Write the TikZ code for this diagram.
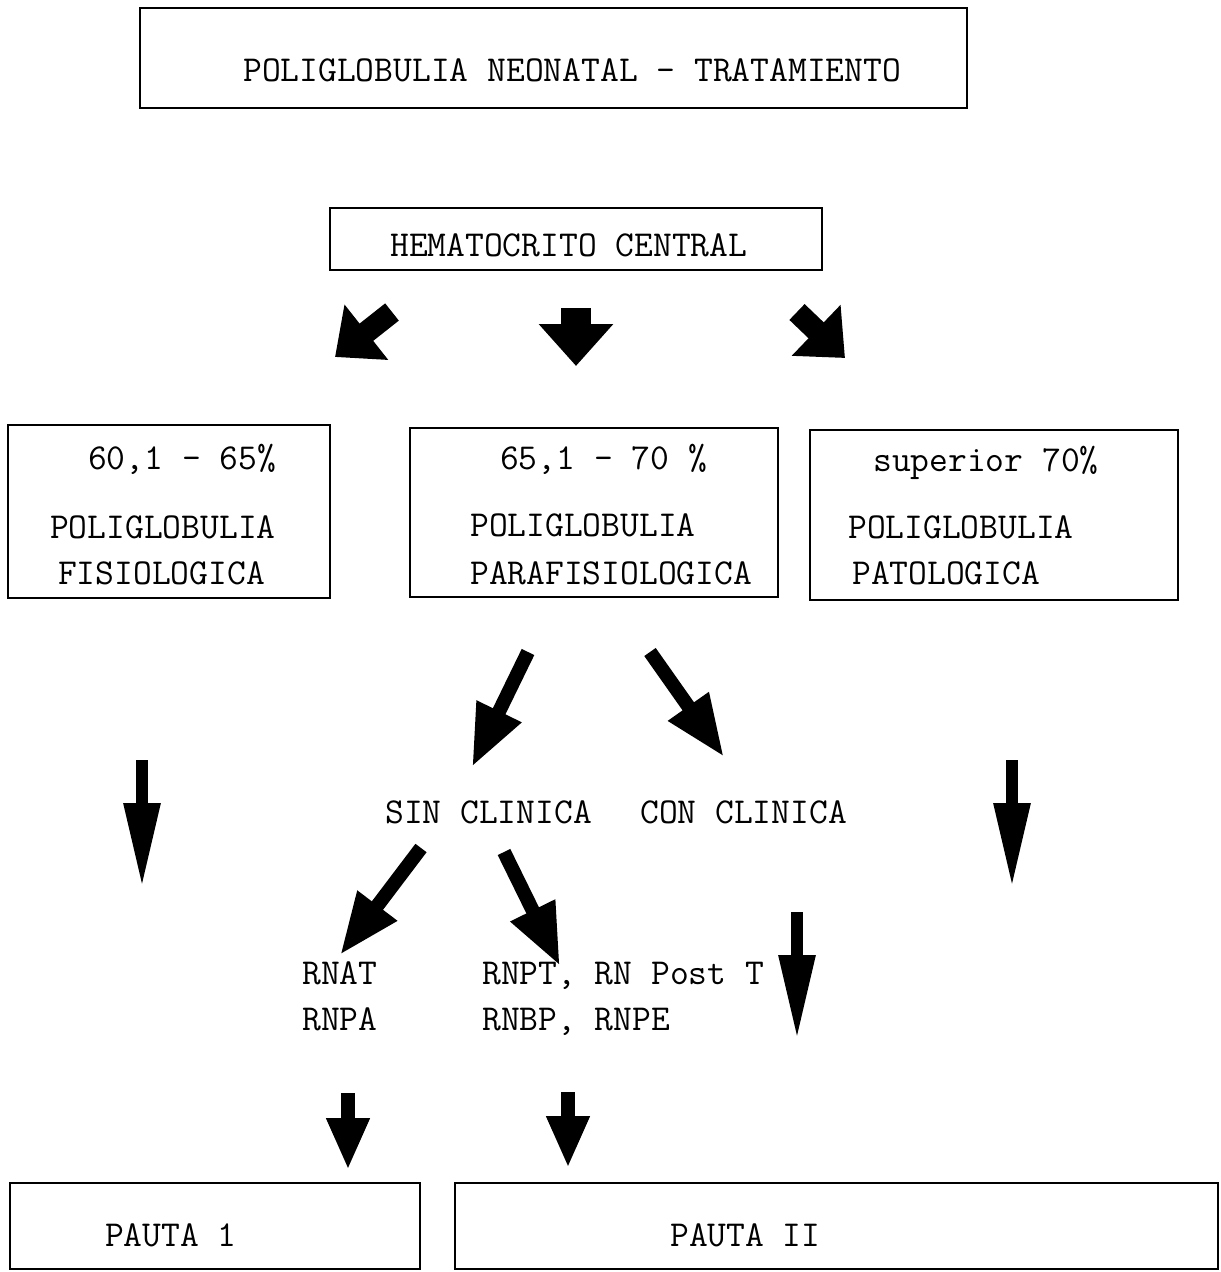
\documentclass[tikz,border=0pt]{standalone}
\usetikzlibrary{arrows.meta}
\begin{document}
\begin{tikzpicture}[x=1pt,y=-1pt,
  box/.style={draw, line width=2pt, rectangle, inner sep=0pt},
  lbl/.style={anchor=base west, inner sep=0pt, font=\ttfamily\fontsize{36.5}{40}\selectfont},
]
\useasboundingbox (0,0) rectangle (1221,1272);

% title and first step
\node[box, minimum width=827pt, minimum height=100pt] (title) at (553.5,58) {};
\node[lbl] (titletxt) at (243,81) {POLIGLOBULIA NEONATAL - TRATAMIENTO};
\node[box, minimum width=492pt, minimum height=62pt] (hto) at (576,239) {};
\node[lbl] (htotxt) at (390,256) {HEMATOCRITO CENTRAL};

% three ranges
\node[box, minimum width=322pt, minimum height=173pt] (b1) at (169,511.5) {};
\node[box, minimum width=368pt, minimum height=169pt] (b2) at (594,512.5) {};
\node[box, minimum width=368pt, minimum height=170pt] (b3) at (994,515) {};
\node[lbl] (r1) at (88,469) {60,1 - 65\%};
\node[lbl] (r2) at (500,469) {65,1 - 70 \%};
\node[lbl] (r3) at (873,471) {superior 70\%};
\node[lbl] (p1a) at (50,538) {POLIGLOBULIA};
\node[lbl] (p1b) at (58,584) {FISIOLOGICA};
\node[lbl] (p2a) at (470,536) {POLIGLOBULIA};
\node[lbl] (p2b) at (470,584) {PARAFISIOLOGICA};
\node[lbl] (p3a) at (848,538) {POLIGLOBULIA};
\node[lbl] (p3b) at (852,584) {PATOLOGICA};

% clinical branches
\node[lbl] (sin) at (385,823) {SIN CLINICA};
\node[lbl] (con) at (640,823) {CON CLINICA};
\node[lbl] (rnat) at (302,984) {RNAT};
\node[lbl] (rnpa) at (302,1030) {RNPA};
\node[lbl] (rnpt) at (482,984) {RNPT, RN Post T};
\node[lbl] (rnbp) at (482,1030) {RNBP, RNPE};

% treatment boxes
\node[box, minimum width=410pt, minimum height=86pt] (pauta1) at (215,1226) {};
\node[box, minimum width=763pt, minimum height=86pt] (pauta2) at (836.5,1226) {};
\node[lbl] (pt1) at (105,1246) {PAUTA 1};
\node[lbl] (pt2) at (670,1246) {PAUTA II};

% arrow end points
\coordinate (a1s) at (392,312); \coordinate (a1e) at (335,357);
\coordinate (a2s) at (576,308); \coordinate (a2e) at (576,366);
\coordinate (a3s) at (797,312); \coordinate (a3e) at (845,358);
\coordinate (d1s) at (528,652); \coordinate (d1e) at (472,767);
\coordinate (d2s) at (650,652); \coordinate (d2e) at (724,757);
\coordinate (v1s) at (142,760); \coordinate (v1e) at (142,888);
\coordinate (v2s) at (1012,760); \coordinate (v2e) at (1012,888);
\coordinate (e1s) at (421,848); \coordinate (e1e) at (340,955);
\coordinate (e2s) at (504,852); \coordinate (e2e) at (560,966);
\coordinate (v3s) at (797,912); \coordinate (v3e) at (797,1040);
\coordinate (s1s) at (348,1093); \coordinate (s1e) at (348,1170);
\coordinate (s2s) at (568,1092); \coordinate (s2e) at (568,1168);

% short fat arrows under the hematocrit
\draw[line width=22pt, -{Triangle[length=40pt, width=68pt]}] (a1s) -- (a1e);
\draw[line width=30pt, -{Triangle[length=42pt, width=72pt]}] (a2s) -- (a2e);
\draw[line width=22pt, -{Triangle[length=40pt, width=68pt]}] (a3s) -- (a3e);

% long arrows
\draw[line width=14pt, -{Triangle[length=62pt, width=46pt]}] (d1s) -- (d1e);
\draw[line width=14pt, -{Triangle[length=62pt, width=46pt]}] (d2s) -- (d2e);
\draw[line width=12pt, -{Triangle[length=85pt, width=34pt]}] (v1s) -- (v1e);
\draw[line width=12pt, -{Triangle[length=85pt, width=34pt]}] (v2s) -- (v2e);
\draw[line width=14pt, -{Triangle[length=62pt, width=46pt]}] (e1s) -- (e1e);
\draw[line width=14pt, -{Triangle[length=62pt, width=46pt]}] (e2s) -- (e2e);
\draw[line width=12pt, -{Triangle[length=85pt, width=34pt]}] (v3s) -- (v3e);
\draw[line width=14pt, -{Triangle[length=52pt, width=40pt]}] (s1s) -- (s1e);
\draw[line width=14pt, -{Triangle[length=52pt, width=40pt]}] (s2s) -- (s2e);
\end{tikzpicture}
\end{document}
